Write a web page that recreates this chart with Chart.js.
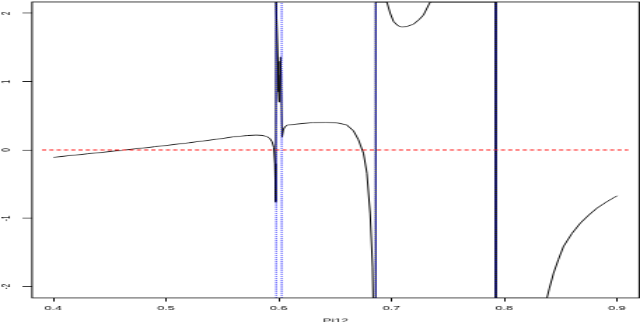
<!DOCTYPE html>
<html>
<head>
<meta charset="utf-8">
<script src="https://cdn.jsdelivr.net/npm/chart.js@4"></script>
<style>
  html, body { margin: 0; padding: 0; background: #fff; }
  #wrap { width: 640px; height: 322px; overflow: hidden; position: relative; }
  /* canvas is drawn small and stretched, like the squashed R device in the picture */
  #plot { display: block; width: 640px !important; height: 336px !important; }
</style>
</head>
<body>
<div id="wrap">
  <canvas id="plot" width="457" height="480" style="width:640px;height:336px"></canvas>
</div>
<script>
/* ---------- data ---------- */
const CURVE_X = [
  0.400, 0.430, 0.460, 0.490, 0.520, 0.545, 0.560, 0.572, 0.580, 0.585, 0.589, 0.592, 0.594, 0.5955, 0.5965, 0.5972,
  0.5976, 0.5985, 0.5992, 0.5998, 0.6002, 0.6007, 0.6012, 0.6016,
  0.6029, 0.6040, 0.6055, 0.6075, 0.616, 0.630, 0.642, 0.652, 0.660, 0.6662, 0.6706, 0.6751, 0.6781, 0.681, 0.6831, 0.6836, 0.6858,
  0.6859, 0.6958, 0.6988, 0.7017, 0.7055, 0.7091, 0.7140, 0.7194, 0.7245, 0.7283, 0.7342, 0.7923,
  0.7924, 0.8378, 0.8400, 0.8437, 0.8480, 0.8525, 0.8600, 0.8674, 0.8750, 0.8822, 0.8910, 0.900
];
const CURVE_Y = [
  -0.107, -0.056, -0.006, 0.048, 0.105, 0.158, 0.193, 0.212, 0.218, 0.214, 0.200, 0.170, 0.12, 0.04, -0.20, -0.76,
  2.165, 2.165, 1.30, 0.85, 0.70, 0.78, 1.10, 1.36,
  0.19, 0.30, 0.34, 0.365, 0.38, 0.40, 0.405, 0.395, 0.37, 0.28, 0.15, -0.05, -0.34, -0.93, -1.71, -2.165, -2.165,
  2.165, 2.165, 2.00, 1.88, 1.82, 1.80, 1.81, 1.84, 1.91, 1.975, 2.165, 2.165,
  -2.165, -2.165, -2.02, -1.80, -1.60, -1.41, -1.22, -1.07, -0.95, -0.85, -0.755, -0.67
];
const POLE_X  = [0.5976, 0.6025, 0.6859, 0.7924];
const POLE_Y  = [-2.165, 2.165];
const ZERO_X  = [0.39, 0.91];
const ZERO_Y  = [0, 0];

const X_TICKS       = [0.4, 0.5, 0.6, 0.7, 0.8, 0.9];
const X_TICK_LABELS = ['0.4', '0.5', '0.6', '0.7', '0.8', '0.9'];
const Y_TICKS       = [-2, -1, 0, 1, 2];
const Y_TICK_LABELS = ['-2', '-1', '0', '1', '2'];
const X_TITLE = 'Pi12';

/* ---------- helpers ---------- */
const pts = (xs, ys) => xs.map((x, i) => ({ x, y: ys[i] }));
const FONT = { family: "'Liberation Sans', Arial, sans-serif", size: 9 };

const poleSets = POLE_X.map(px => ({
  data: pts([px, px], POLE_Y),
  borderColor: '#0000ff',
  borderWidth: 1,
  borderDash: [1.5, 1.5],
}));

// R style box round the plot region
const boxPlugin = {
  id: 'box',
  afterDraw(chart) {
    const { ctx, chartArea: a } = chart;
    ctx.save();
    ctx.strokeStyle = '#000';
    ctx.lineWidth = 1;
    ctx.strokeRect(a.left, a.top, a.right - a.left, a.bottom - a.top);
    ctx.restore();
  }
};

// no extra room for label overflow, the layout is fixed
function noPad(s) {
  s.paddingTop = 0; s.paddingBottom = 0; s.paddingLeft = 0; s.paddingRight = 0;
}

new Chart(document.getElementById('plot'), {
  type: 'scatter',
  data: {
    datasets: [
      ...poleSets,
      { data: pts(ZERO_X, ZERO_Y), borderColor: '#ff2020', borderWidth: 1.4, borderDash: [3, 2.2] },
      { data: pts(CURVE_X, CURVE_Y), borderColor: '#000', borderWidth: 1 }
    ].map(d => Object.assign({ showLine: true, pointRadius: 0, tension: 0, fill: false }, d))
  },
  options: {
    responsive: false,
    devicePixelRatio: 1,
    animation: false,
    layout: { padding: { top: 2.86, right: 0.6, left: 0, bottom: 0 } },
    plugins: { legend: { display: false }, tooltip: { enabled: false } },
    scales: {
      x: {
        type: 'linear', min: 0.3811, max: 0.9196,
        afterBuildTicks: s => { s.ticks = X_TICKS.map(v => ({ value: v })); },
        afterFit: s => { s.height = 54.3; noPad(s); },
        ticks: { color: '#000', font: FONT, padding: 4.5, maxRotation: 0,
                 callback: (v, i) => X_TICK_LABELS[i] },
        grid: { drawOnChartArea: false, drawTicks: true, tickLength: 5, tickColor: '#000', lineWidth: 1 },
        border: { display: false },
        title: { display: true, text: X_TITLE, color: '#000', font: FONT, padding: { top: 0, bottom: 16 } }
      },
      y: {
        type: 'linear', min: -2.165, max: 2.165,
        afterBuildTicks: s => { s.ticks = Y_TICKS.map(v => ({ value: v })); },
        afterFit: s => { s.width = 22.86; noPad(s); },
        ticks: { color: '#000', font: FONT, padding: 7.6, minRotation: 90, maxRotation: 90, crossAlign: 'center',
                 callback: (v, i) => Y_TICK_LABELS[i] },
        grid: { drawOnChartArea: false, drawTicks: true, tickLength: 6.8, tickColor: '#000', lineWidth: 1 },
        border: { display: false }
      }
    }
  },
  plugins: [boxPlugin]
});
</script>
</body>
</html>
